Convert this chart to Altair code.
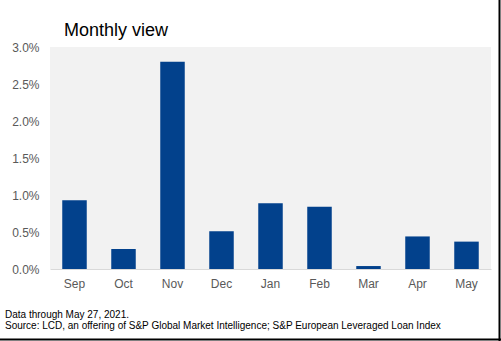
import altair as alt
import pandas as pd

months = ["Sep", "Oct", "Nov", "Dec", "Jan", "Feb", "Mar", "Apr", "May"]
values = [0.0093, 0.0027, 0.0280, 0.0051, 0.0089, 0.0084, 0.0004, 0.0044, 0.0037]
y_ticks = [0.0, 0.005, 0.01, 0.015, 0.02, 0.025, 0.03]
title_text = "Monthly view"
footer_lines = ["Data through May 27, 2021.",
                "Source: LCD, an offering of S&P Global Market Intelligence; S&P European Leveraged Loan Index"]

FONT = "Liberation Sans"
df = pd.DataFrame({"month": months, "value": values})

bars = alt.Chart(df).mark_bar(color="#02418c").encode(
    x=alt.X("month:N", sort=months, title=None,
            scale=alt.Scale(paddingInner=0.5, paddingOuter=0.25),
            axis=alt.Axis(labelAngle=0, ticks=False, domainColor="#d9d9d9", domainWidth=1,
                          labelFont=FONT, labelFontSize=12, labelColor="#595959",
                          labelPadding=9, grid=False)),
    y=alt.Y("value:Q", title=None,
            scale=alt.Scale(domain=[0, 0.03], nice=False),
            axis=alt.Axis(values=y_ticks, format=".1%", ticks=False, domain=False, grid=False,
                          labelFont=FONT, labelFontSize=12, labelColor="#595959",
                          labelPadding=11)),
)

one = pd.DataFrame({"a": [0]})
title = alt.Chart(one).mark_text(text=title_text, font=FONT, fontSize=18, align="left",
                                 baseline="alphabetic", color="#000000").encode(
    x=alt.value(14), y=alt.value(-11))

foot1 = alt.Chart(one).mark_text(text=footer_lines[0], font=FONT, fontSize=10, align="left",
                                 baseline="alphabetic", color="#000000").encode(
    x=alt.value(-45), y=alt.value(271))
foot2 = alt.Chart(one).mark_text(text=footer_lines[1], font=FONT, fontSize=10, align="left",
                                 baseline="alphabetic", color="#000000").encode(
    x=alt.value(-45), y=alt.value(282))

border_r = alt.Chart(one).mark_rule(color="#000000", strokeWidth=2).encode(
    x=alt.value(449.5), y=alt.value(-47), y2=alt.value(294))
border_b = alt.Chart(one).mark_rule(color="#000000", strokeWidth=2).encode(
    x=alt.value(-50), x2=alt.value(451), y=alt.value(292.5))

chart = alt.layer(bars, title, foot1, foot2, border_r, border_b).properties(
    width=441, height=222,
    autosize=alt.AutoSizeParams(type="none"),
    padding={"left": 50, "top": 47, "right": 10, "bottom": 72},
    background="#ffffff",
).configure_view(fill="#f2f2f2", stroke=None)

chart.save("out.html", embed_options={"renderer": "svg", "actions": False})
